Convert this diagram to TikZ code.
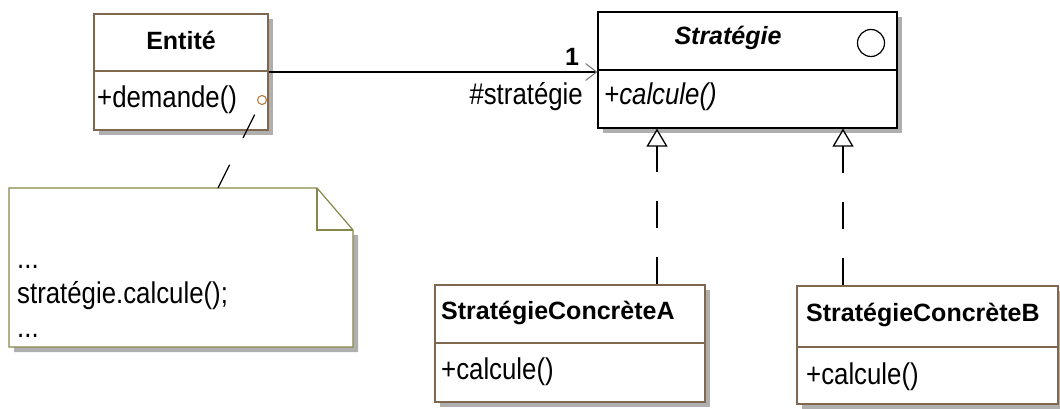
\documentclass[tikz,border=0pt]{standalone}
\usepackage{fontspec}
\setmainfont{Liberation Sans}
\newfontfamily\narrowsans[FakeStretch=0.86]{Liberation Sans}
\usetikzlibrary{arrows.meta,shadows}

\definecolor{classbrown}{RGB}{128,104,80}
\definecolor{noteolive}{RGB}{135,135,75}
\definecolor{hookbrown}{RGB}{175,125,65}
\definecolor{shadowgray}{RGB}{175,175,175}

\begin{document}
\begin{tikzpicture}[x=1pt,y=-1pt,
  classbox/.style={draw=#1, fill=white, line width=1.2pt, inner sep=0pt,
    drop shadow={shadow xshift=5pt, shadow yshift=-5pt, fill=shadowgray, opacity=1}},
  divider/.style={draw=#1, line width=1.2pt},
  title/.style={inner sep=0pt, font=\fontsize{25}{28}\selectfont\bfseries},
  titleit/.style={inner sep=0pt, font=\fontsize{25}{28}\selectfont\bfseries\itshape},
  oper/.style={inner sep=0pt, font=\fontsize{30}{33}\narrowsans},
  operit/.style={inner sep=0pt, font=\fontsize{30}{33}\narrowsans\itshape},
  assoc/.style={line width=1.3pt, -{Straight Barb[length=11pt, width=17pt, line width=1pt, color=black!55]}},
  realize/.style={line width=1.4pt, dash pattern=on 27pt off 29pt,
    -{Triangle[open, length=18pt, width=21pt, line width=1.3pt, fill=white]}},
  anchorline/.style={line width=1.3pt, dash pattern=on 26pt off 30pt},
]
\useasboundingbox (0,0) rectangle (1060,409);

% class Entité
\node[classbox=classbrown, minimum width=174pt, minimum height=116pt] (ent) at (181,72) {};
\draw[divider=classbrown] (94,71) -- (268,71);
\node[title] (entT) at (181,40) {Entité};
\node[oper, anchor=west] (entOp) at (97,100) {+demande()};

% interface Stratégie
\node[classbox=black, minimum width=299pt, minimum height=116pt] (strat) at (747.5,70) {};
\draw[divider=black] (598,70) -- (897,70);
\node[titleit] (stratT) at (728,38) {Stratégie};
\node[draw, circle, minimum size=27pt, inner sep=0pt, line width=1.2pt] (iface) at (871,43) {};
\node[operit, anchor=west] (stratOp) at (604,97) {+calcule()};

% concrete strategies
\node[classbox=classbrown, minimum width=270pt, minimum height=117pt] (ca) at (570,343.5) {};
\draw[divider=classbrown] (435,343) -- (705,343);
\node[title, anchor=west] (caT) at (441,313) {StratégieConcrèteA};
\node[oper, anchor=west] (caOp) at (441,372) {+calcule()};

\node[classbox=classbrown, minimum width=261pt, minimum height=118pt] (cb) at (927.5,345) {};
\draw[divider=classbrown] (797,347) -- (1058,347);
\node[title, anchor=west] (cbT) at (806,315) {StratégieConcrèteB};
\node[oper, anchor=west] (cbOp) at (806,377) {+calcule()};

% association Entité -> Stratégie
\draw[assoc] (ent.east) -- (ent.east -| strat.west);
\node[inner sep=0pt, font=\fontsize{25}{28}\selectfont\bfseries] (mult) at (572,57) {1};
\node[oper, anchor=east] (role) at (583,97) {\#stratégie};

% realizations
\coordinate (gA) at (657,0);
\coordinate (gB) at (843,0);
\draw[realize] (ca.north -| gA) -- (strat.south -| gA);
\draw[realize] (cb.north -| gB) -- (strat.south -| gB);

% note attached to demande()
\fill[shadowgray] (358,235) -- (358,352) -- (14,352) -- (14,347) -- (353,347) -- (353,235) -- cycle;
\draw[noteolive, line width=1.2pt, fill=white]
  (9,188) -- (317,188) -- (353,230) -- (353,347) -- (9,347) -- cycle;
\draw[noteolive, line width=1.2pt] (317,188) -- (317,230) -- (353,230);
\node[oper, anchor=base west] (n1) at (17,268) {...};
\node[oper, anchor=base west] (n2) at (17,303) {stratégie.calcule();};
\node[oper, anchor=base west] (n3) at (17,337) {...};

\node[draw=hookbrown, circle, minimum size=9pt, inner sep=0pt, line width=1.1pt, fill=white] (hook) at (262,100) {};
\coordinate (noteTop) at (218,188);
\draw[anchorline] (noteTop) -- (hook);
\end{tikzpicture}
\end{document}
